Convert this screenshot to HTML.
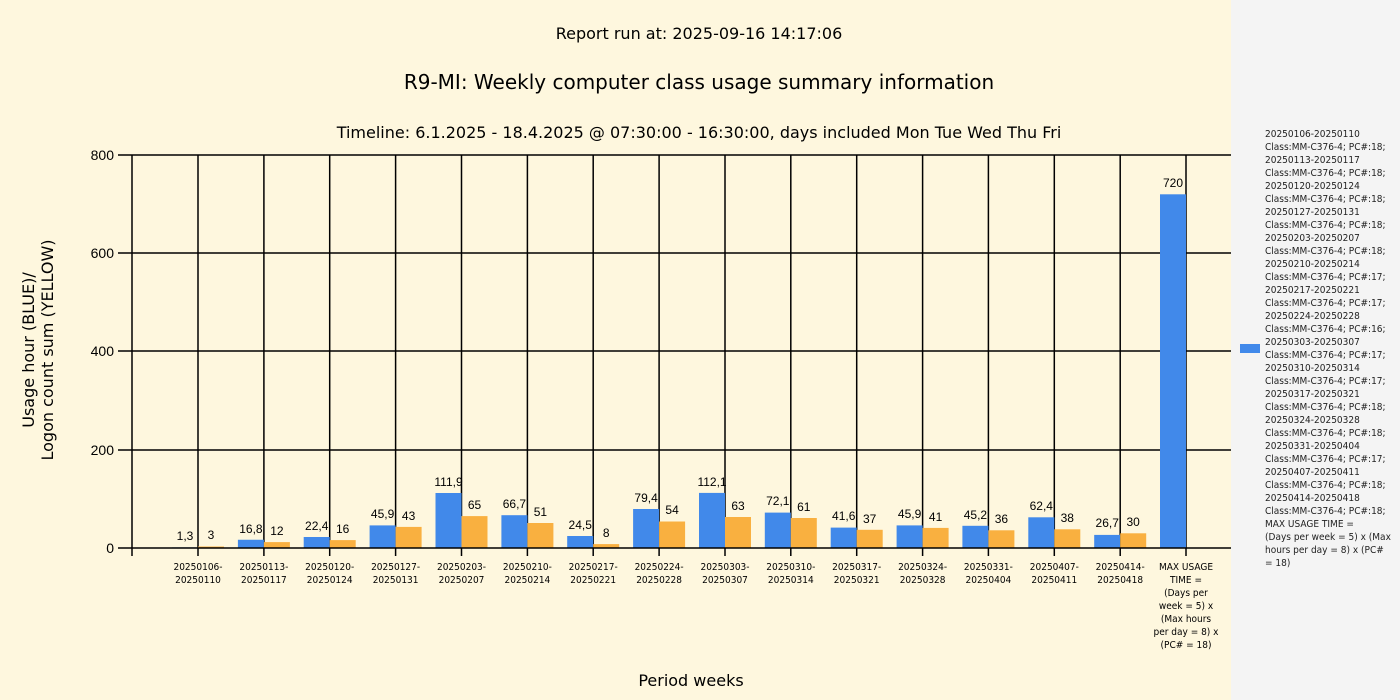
<!DOCTYPE html>
<html><head><meta charset="utf-8"><style>
html,body{margin:0;padding:0;background:#fef7de;}
svg{display:block;font-family:Tahoma,"DejaVu Sans","Liberation Sans",sans-serif;}
.c{font-family:"DejaVu Sans Condensed","Liberation Sans Narrow","DejaVu Sans",sans-serif;}
</style></head><body>
<svg width="1400" height="700" viewBox="0 0 1400 700" xmlns="http://www.w3.org/2000/svg">
<rect width="1400" height="700" fill="#fef7de"/>
<rect x="1231" y="0" width="169" height="700" fill="#f4f4f4"/>
<g font-size="16" fill="#000" text-anchor="middle">
<text x="699" y="39">Report run at: 2025-09-16 14:17:06</text>
<text x="699" y="89" font-size="20">R9-MI: Weekly computer class usage summary information</text>
<text x="699" y="138">Timeline:  6.1.2025  - 18.4.2025  @  07:30:00 -  16:30:00, days included Mon Tue Wed Thu Fri</text>
<text x="691" y="686">Period weeks</text>
<text transform="translate(34,350) rotate(-90)">Usage hour (BLUE)/</text>
<text transform="translate(53,350) rotate(-90)">Logon count sum (YELLOW)</text>
</g>
<g stroke="#000" stroke-width="1.5">
<line x1="118" y1="155" x2="1231" y2="155"/>
<line x1="118" y1="253" x2="1231" y2="253"/>
<line x1="118" y1="351" x2="1231" y2="351"/>
<line x1="118" y1="450" x2="1231" y2="450"/>
<line x1="132" y1="155" x2="132" y2="556"/>
<line x1="198" y1="155" x2="198" y2="556"/>
<line x1="263.9" y1="155" x2="263.9" y2="556"/>
<line x1="329.7" y1="155" x2="329.7" y2="556"/>
<line x1="395.6" y1="155" x2="395.6" y2="556"/>
<line x1="461.5" y1="155" x2="461.5" y2="556"/>
<line x1="527.4" y1="155" x2="527.4" y2="556"/>
<line x1="593.2" y1="155" x2="593.2" y2="556"/>
<line x1="659.1" y1="155" x2="659.1" y2="556"/>
<line x1="725" y1="155" x2="725" y2="556"/>
<line x1="790.8" y1="155" x2="790.8" y2="556"/>
<line x1="856.7" y1="155" x2="856.7" y2="556"/>
<line x1="922.6" y1="155" x2="922.6" y2="556"/>
<line x1="988.4" y1="155" x2="988.4" y2="556"/>
<line x1="1054.3" y1="155" x2="1054.3" y2="556"/>
<line x1="1120.2" y1="155" x2="1120.2" y2="556"/>
<line x1="1186" y1="155" x2="1186" y2="556"/>
</g>
<g font-size="14" text-anchor="end" fill="#000" font-family="Liberation Sans, sans-serif">
<text x="114" y="160">800</text><text x="114" y="258">600</text><text x="114" y="356">400</text><text x="114" y="455">200</text><text x="114" y="553">0</text>
</g>
<g font-size="12" text-anchor="middle" fill="#000" font-family="Liberation Sans, sans-serif">
<g transform="translate(198,0)"><rect x="-26" y="547.4" width="26" height="0.64" fill="#4189ea"/><rect x="0" y="546.5" width="26" height="1.5" fill="#f9b040"/><text x="-13" y="540">1,3</text><text x="13" y="539">3</text></g>
<g transform="translate(263.9,0)"><rect x="-26" y="539.75" width="26" height="8.25" fill="#4189ea"/><rect x="0" y="542.1" width="26" height="5.9" fill="#f9b040"/><text x="-13" y="533">16,8</text><text x="13" y="535">12</text></g>
<g transform="translate(329.7,0)"><rect x="-26" y="537" width="26" height="11" fill="#4189ea"/><rect x="0" y="540.1" width="26" height="7.9" fill="#f9b040"/><text x="-13" y="530">22,4</text><text x="13" y="533">16</text></g>
<g transform="translate(395.6,0)"><rect x="-26" y="525.4" width="26" height="22.6" fill="#4189ea"/><rect x="0" y="526.9" width="26" height="21.1" fill="#f9b040"/><text x="-13" y="518">45,9</text><text x="13" y="520">43</text></g>
<g transform="translate(461.5,0)"><rect x="-26" y="493" width="26" height="55" fill="#4189ea"/><rect x="0" y="516.1" width="26" height="31.9" fill="#f9b040"/><text x="-13" y="486">111,9</text><text x="13" y="509">65</text></g>
<g transform="translate(527.4,0)"><rect x="-26" y="515.2" width="26" height="32.8" fill="#4189ea"/><rect x="0" y="523" width="26" height="25" fill="#f9b040"/><text x="-13" y="508">66,7</text><text x="13" y="516">51</text></g>
<g transform="translate(593.2,0)"><rect x="-26" y="536" width="26" height="12" fill="#4189ea"/><rect x="0" y="544.1" width="26" height="3.9" fill="#f9b040"/><text x="-13" y="529">24,5</text><text x="13" y="537">8</text></g>
<g transform="translate(659.1,0)"><rect x="-26" y="509" width="26" height="39" fill="#4189ea"/><rect x="0" y="521.5" width="26" height="26.5" fill="#f9b040"/><text x="-13" y="502">79,4</text><text x="13" y="514">54</text></g>
<g transform="translate(725,0)"><rect x="-26" y="492.9" width="26" height="55.1" fill="#4189ea"/><rect x="0" y="517" width="26" height="31" fill="#f9b040"/><text x="-13" y="486">112,1</text><text x="13" y="510">63</text></g>
<g transform="translate(790.8,0)"><rect x="-26" y="512.6" width="26" height="35.4" fill="#4189ea"/><rect x="0" y="518" width="26" height="30" fill="#f9b040"/><text x="-13" y="505">72,1</text><text x="13" y="511">61</text></g>
<g transform="translate(856.7,0)"><rect x="-26" y="527.6" width="26" height="20.4" fill="#4189ea"/><rect x="0" y="529.8" width="26" height="18.2" fill="#f9b040"/><text x="-13" y="520">41,6</text><text x="13" y="523">37</text></g>
<g transform="translate(922.6,0)"><rect x="-26" y="525.4" width="26" height="22.6" fill="#4189ea"/><rect x="0" y="527.9" width="26" height="20.1" fill="#f9b040"/><text x="-13" y="518">45,9</text><text x="13" y="521">41</text></g>
<g transform="translate(988.4,0)"><rect x="-26" y="525.8" width="26" height="22.2" fill="#4189ea"/><rect x="0" y="530.3" width="26" height="17.7" fill="#f9b040"/><text x="-13" y="519">45,2</text><text x="13" y="523">36</text></g>
<g transform="translate(1054.3,0)"><rect x="-26" y="517.3" width="26" height="30.7" fill="#4189ea"/><rect x="0" y="529.3" width="26" height="18.7" fill="#f9b040"/><text x="-13" y="510">62,4</text><text x="13" y="522">38</text></g>
<g transform="translate(1120.2,0)"><rect x="-26" y="534.9" width="26" height="13.1" fill="#4189ea"/><rect x="0" y="533.3" width="26" height="14.7" fill="#f9b040"/><text x="-13" y="527">26,7</text><text x="13" y="526">30</text></g>
<g transform="translate(1186,0)"><rect x="-26" y="194.3" width="26" height="353.7" fill="#4189ea"/><text x="-13" y="187">720</text></g>
</g>
<line x1="118" y1="548" x2="1231" y2="548" stroke="#000" stroke-width="1.5"/>
<g font-size="10" text-anchor="middle" fill="#000" class="c">
<text x="198" y="570">20250106-</text><text x="198" y="583">20250110</text>
<text x="263.9" y="570">20250113-</text><text x="263.9" y="583">20250117</text>
<text x="329.7" y="570">20250120-</text><text x="329.7" y="583">20250124</text>
<text x="395.6" y="570">20250127-</text><text x="395.6" y="583">20250131</text>
<text x="461.5" y="570">20250203-</text><text x="461.5" y="583">20250207</text>
<text x="527.4" y="570">20250210-</text><text x="527.4" y="583">20250214</text>
<text x="593.2" y="570">20250217-</text><text x="593.2" y="583">20250221</text>
<text x="659.1" y="570">20250224-</text><text x="659.1" y="583">20250228</text>
<text x="725" y="570">20250303-</text><text x="725" y="583">20250307</text>
<text x="790.8" y="570">20250310-</text><text x="790.8" y="583">20250314</text>
<text x="856.7" y="570">20250317-</text><text x="856.7" y="583">20250321</text>
<text x="922.6" y="570">20250324-</text><text x="922.6" y="583">20250328</text>
<text x="988.4" y="570">20250331-</text><text x="988.4" y="583">20250404</text>
<text x="1054.3" y="570">20250407-</text><text x="1054.3" y="583">20250411</text>
<text x="1120.2" y="570">20250414-</text><text x="1120.2" y="583">20250418</text>
<text x="1186" y="570">MAX USAGE</text><text x="1186" y="583">TIME =</text><text x="1186" y="596">(Days per</text><text x="1186" y="609">week = 5) x</text><text x="1186" y="622">(Max hours</text><text x="1186" y="635">per day = 8) x</text><text x="1186" y="648">(PC# = 18)</text>
</g>
<rect x="1240" y="344" width="20" height="9" fill="#4189ea"/>
<g font-size="10" fill="#222" class="c">
<text x="1265" y="137">20250106-20250110</text>
<text x="1265" y="150">Class:MM-C376-4; PC#:18;</text>
<text x="1265" y="163">20250113-20250117</text>
<text x="1265" y="176">Class:MM-C376-4; PC#:18;</text>
<text x="1265" y="189">20250120-20250124</text>
<text x="1265" y="202">Class:MM-C376-4; PC#:18;</text>
<text x="1265" y="215">20250127-20250131</text>
<text x="1265" y="228">Class:MM-C376-4; PC#:18;</text>
<text x="1265" y="241">20250203-20250207</text>
<text x="1265" y="254">Class:MM-C376-4; PC#:18;</text>
<text x="1265" y="267">20250210-20250214</text>
<text x="1265" y="280">Class:MM-C376-4; PC#:17;</text>
<text x="1265" y="293">20250217-20250221</text>
<text x="1265" y="306">Class:MM-C376-4; PC#:17;</text>
<text x="1265" y="319">20250224-20250228</text>
<text x="1265" y="332">Class:MM-C376-4; PC#:16;</text>
<text x="1265" y="345">20250303-20250307</text>
<text x="1265" y="358">Class:MM-C376-4; PC#:17;</text>
<text x="1265" y="371">20250310-20250314</text>
<text x="1265" y="384">Class:MM-C376-4; PC#:17;</text>
<text x="1265" y="397">20250317-20250321</text>
<text x="1265" y="410">Class:MM-C376-4; PC#:18;</text>
<text x="1265" y="423">20250324-20250328</text>
<text x="1265" y="436">Class:MM-C376-4; PC#:18;</text>
<text x="1265" y="449">20250331-20250404</text>
<text x="1265" y="462">Class:MM-C376-4; PC#:17;</text>
<text x="1265" y="475">20250407-20250411</text>
<text x="1265" y="488">Class:MM-C376-4; PC#:18;</text>
<text x="1265" y="501">20250414-20250418</text>
<text x="1265" y="514">Class:MM-C376-4; PC#:18;</text>
<text x="1265" y="527">MAX USAGE TIME =</text>
<text x="1265" y="540">(Days per week = 5) x (Max</text>
<text x="1265" y="553">hours per day = 8) x (PC#</text>
<text x="1265" y="566">= 18)</text>
</g>
</svg>
</body></html>
